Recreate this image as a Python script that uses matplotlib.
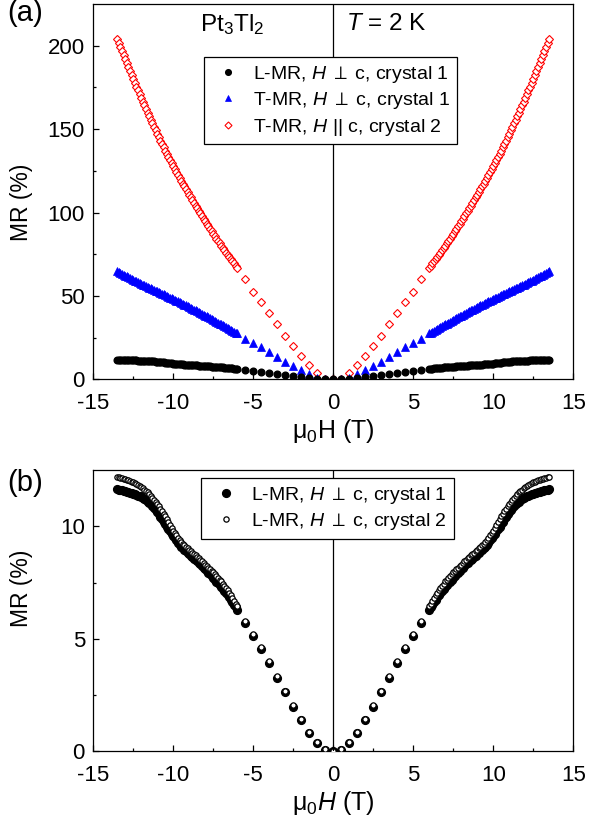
import numpy as np
import matplotlib
matplotlib.use("Agg")
import matplotlib.pyplot as plt

# Pt3Tl2 magnetoresistance at T = 2 K
plt.rcParams['font.family'] = ['Liberation Sans', 'DejaVu Sans']
plt.rcParams['mathtext.fontset'] = 'custom'
plt.rcParams['mathtext.rm'] = 'Liberation Sans'
plt.rcParams['mathtext.it'] = 'Liberation Sans:italic'
plt.rcParams['mathtext.fallback'] = 'stixsans'
plt.rcParams['axes.unicode_minus'] = False
plt.rcParams['axes.linewidth'] = 0.9

# field sweep (T), positive branch; the data are symmetrized in H
FIELD_SPARSE = [0.0, 0.5, 1.0, 1.5, 2.0, 2.5, 3.0, 3.5, 4.0, 4.5, 5.0, 5.5]
FIELD_DENSE = [
    6.0, 6.1, 6.2, 6.3, 6.4, 6.5, 6.6, 6.7, 6.8, 6.9,
    7.0, 7.1, 7.2, 7.3, 7.4, 7.5, 7.6, 7.7, 7.8, 7.9,
    8.0, 8.1, 8.2, 8.3, 8.4, 8.5, 8.6, 8.7, 8.8, 8.9,
    9.0, 9.1, 9.2, 9.3, 9.4, 9.5, 9.6, 9.7, 9.8, 9.9,
    10.0, 10.1, 10.2, 10.3, 10.4, 10.5, 10.6, 10.7, 10.8, 10.9,
    11.0, 11.1, 11.2, 11.3, 11.4, 11.5, 11.6, 11.7, 11.8, 11.9,
    12.0, 12.1, 12.2, 12.3, 12.4, 12.5, 12.6, 12.7, 12.8, 12.9,
    13.0, 13.1, 13.2, 13.3, 13.4, 13.5,
]

# L-MR, H perp c, crystal 1 (%)
LMR_C1_SPARSE = [0.0, 0.08, 0.38, 0.82, 1.38, 1.98, 2.62, 3.28, 3.93, 4.55, 5.15, 5.70]
LMR_C1_DENSE = [
    6.30, 6.41, 6.52, 6.63, 6.74, 6.85, 6.94, 7.03, 7.12, 7.21,
    7.30, 7.38, 7.46, 7.54, 7.62, 7.70, 7.78, 7.86, 7.94, 8.02,
    8.10, 8.17, 8.24, 8.31, 8.38, 8.45, 8.51, 8.57, 8.63, 8.69,
    8.75, 8.82, 8.89, 8.96, 9.03, 9.10, 9.19, 9.28, 9.37, 9.46,
    9.55, 9.66, 9.77, 9.88, 9.99, 10.10, 10.21, 10.32, 10.43, 10.54,
    10.65, 10.73, 10.81, 10.89, 10.97, 11.05, 11.10, 11.15, 11.20, 11.25,
    11.30, 11.33, 11.36, 11.39, 11.42, 11.45, 11.47, 11.49, 11.51, 11.53,
    11.55, 11.57, 11.59, 11.61, 11.63, 11.65,
]

# T-MR, H perp c, crystal 1 (%)
TMR_C1_SPARSE = [0.0, 0.3, 1.0, 3.1, 5.4, 7.8, 10.3, 13.6, 16.3, 19.3, 21.8, 24.4]
TMR_C1_DENSE = [
    27.6, 28.1, 28.7, 29.2, 29.8, 30.3, 30.8, 31.4, 31.9, 32.5,
    33.0, 33.5, 34.1, 34.6, 35.2, 35.7, 36.2, 36.7, 37.3, 37.8,
    38.3, 38.8, 39.3, 39.9, 40.4, 40.9, 41.4, 41.9, 42.4, 42.9,
    43.4, 43.9, 44.4, 44.8, 45.3, 45.8, 46.3, 46.8, 47.2, 47.7,
    48.2, 48.7, 49.1, 49.6, 50.0, 50.5, 51.0, 51.4, 51.9, 52.3,
    52.8, 53.3, 53.7, 54.2, 54.6, 55.1, 55.6, 56.0, 56.5, 56.9,
    57.4, 57.9, 58.4, 58.8, 59.3, 59.8, 60.3, 60.8, 61.3, 61.8,
    62.3, 62.8, 63.4, 63.9, 64.5, 65.0,
]

# T-MR, H || c, crystal 2 (%)
TMR_C2_SPARSE = [0.0, 0.5, 3.7, 8.4, 14.0, 19.9, 26.3, 33.0, 39.6, 46.2, 52.7, 60.0]
TMR_C2_DENSE = [
    67.0, 68.3, 69.5, 70.8, 72.0, 73.3, 74.7, 76.0, 77.4, 78.7,
    80.1, 81.5, 83.0, 84.4, 85.9, 87.3, 88.8, 90.3, 91.8, 93.3,
    94.8, 96.4, 97.9, 99.5, 101.0, 102.6, 104.2, 105.8, 107.5, 109.1,
    110.7, 112.4, 114.1, 115.7, 117.4, 119.1, 120.9, 122.6, 124.4, 126.1,
    127.9, 129.8, 131.6, 133.5, 135.3, 137.2, 139.2, 141.2, 143.1, 145.1,
    147.1, 149.2, 151.3, 153.4, 155.5, 157.6, 159.8, 162.0, 164.2, 166.4,
    168.6, 170.9, 173.2, 175.4, 177.7, 180.0, 182.4, 184.7, 187.1, 189.4,
    191.8, 194.2, 196.7, 199.1, 201.6, 204.0,
]

# L-MR, H perp c, crystal 2 (%)
LMR_C2_SPARSE = [0.0, 0.10, 0.41, 0.86, 1.43, 2.05, 2.70, 3.36, 4.01, 4.64, 5.23, 5.79]
LMR_C2_DENSE = [
    6.45, 6.57, 6.69, 6.81, 6.93, 7.05, 7.15, 7.25, 7.35, 7.45,
    7.55, 7.63, 7.71, 7.79, 7.87, 7.95, 8.02, 8.09, 8.16, 8.23,
    8.30, 8.37, 8.44, 8.51, 8.58, 8.65, 8.71, 8.77, 8.83, 8.89,
    8.95, 9.02, 9.09, 9.16, 9.23, 9.30, 9.40, 9.50, 9.60, 9.70,
    9.80, 9.93, 10.06, 10.19, 10.32, 10.45, 10.56, 10.67, 10.78, 10.89,
    11.00, 11.09, 11.18, 11.27, 11.36, 11.45, 11.51, 11.57, 11.63, 11.69,
    11.75, 11.79, 11.83, 11.87, 11.91, 11.95, 11.98, 12.01, 12.04, 12.07,
    12.10, 12.12, 12.14, 12.16, 12.18, 12.20,
]


def full_sweep(sparse, dense, odd=False):
    # join low- and high-field parts, then add the mirrored negative branch
    pos = np.array(sparse + dense)
    neg = pos[:0:-1]
    if odd:
        neg = -neg
    return np.concatenate([neg, pos])


H = full_sweep(FIELD_SPARSE, FIELD_DENSE, odd=True)
lmr_c1 = full_sweep(LMR_C1_SPARSE, LMR_C1_DENSE)
tmr_c1 = full_sweep(TMR_C1_SPARSE, TMR_C1_DENSE)
tmr_c2 = full_sweep(TMR_C2_SPARSE, TMR_C2_DENSE)
lmr_c2 = full_sweep(LMR_C2_SPARSE, LMR_C2_DENSE)

fig = plt.figure(figsize=(5.89, 8.25), dpi=100)
ax_a = fig.add_axes([0.1584, 0.540, 0.8149, 0.4552])
ax_b = fig.add_axes([0.1584, 0.0891, 0.8149, 0.3412])

xlabel_a = r'μ$_\mathregular{0}$H (T)'
xlabel_b = r'μ$_\mathregular{0}$$\mathit{H}$ (T)'
h_perp = r'$\mathit{H}\;\perp\;\mathregular{c}$'
h_par = r'$\mathit{H}$ || c'

leg_kw = dict(loc='upper center', fontsize=14, frameon=True, fancybox=False,
              framealpha=1, edgecolor='black', borderaxespad=0,
              handlelength=1.8, handletextpad=0.4, borderpad=0.35,
              labelspacing=0.28)

# ---- panel (a)
ax_a.plot(H, lmr_c1, 'o', ms=4.8, color='black', mec='black',
          label='L-MR, ' + h_perp + ', crystal 1', zorder=4)
ax_a.plot(H, tmr_c1, '^', ms=5.6, color='#0000ff', mec='#0000ff', mew=0.5,
          label='T-MR, ' + h_perp + ', crystal 1', zorder=3)
ax_a.plot(H, tmr_c2, 'D', ms=4.2, mfc='white', mec='#ff0000', mew=0.8,
          label='T-MR, ' + h_par + ', crystal 2', zorder=2)
ax_a.axvline(0, color='black', lw=0.9, zorder=5)

ax_a.set_xlim(-15, 15)
ax_a.set_ylim(0, 225)
ax_a.set_xticks([-15, -10, -5, 0, 5, 10, 15])
ax_a.set_xticks(np.arange(-12.5, 15, 5), minor=True)
ax_a.set_yticks([0, 50, 100, 150, 200])
ax_a.set_yticks([25, 75, 125, 175], minor=True)
ax_a.set_xlabel(xlabel_a, fontsize=18, labelpad=2)
ax_a.set_ylabel('MR (%)', fontsize=16.5)
ax_a.yaxis.set_label_coords(-0.125, 0.473)

ax_a.text(0.289, 0.944, r'Pt$_\mathregular{3}$Tl$_\mathregular{2}$', transform=ax_a.transAxes,
          fontsize=17.5, ha='center', va='center')
ax_a.text(0.526, 0.947, r'$\mathit{T}$ = 2 K', transform=ax_a.transAxes,
          fontsize=17.5, ha='left', va='center')

leg_a = ax_a.legend(bbox_to_anchor=(0.494, 0.859), markerscale=0.85, **leg_kw)
leg_a.get_frame().set_linewidth(0.9)

# ---- panel (b)
ax_b.plot(H, lmr_c1, 'o', ms=5.6, color='black', mec='black',
          label='L-MR, ' + h_perp + ', crystal 1', zorder=3)
ax_b.plot(H, lmr_c2, 'o', ms=3.8, mfc='white', mec='black', mew=0.9,
          label='L-MR, ' + h_perp + ', crystal 2', zorder=4)
ax_b.axvline(0, color='black', lw=0.9, zorder=5)

ax_b.set_xlim(-15, 15)
ax_b.set_ylim(0, 12.5)
ax_b.set_xticks([-15, -10, -5, 0, 5, 10, 15])
ax_b.set_xticks(np.arange(-12.5, 15, 5), minor=True)
ax_b.set_yticks([0, 5, 10])
ax_b.set_yticks([2.5, 7.5], minor=True)
ax_b.set_xlabel(xlabel_b, fontsize=18, labelpad=2)
ax_b.set_ylabel('MR (%)', fontsize=16.5)
ax_b.yaxis.set_label_coords(-0.125, 0.58)

leg_b = ax_b.legend(bbox_to_anchor=(0.488, 0.972), **leg_kw)
leg_b.get_frame().set_linewidth(0.9)

for ax in (ax_a, ax_b):
    ax.tick_params(which='both', direction='in', top=False, right=False,
                   labelsize=16, width=0.9)
    ax.tick_params(which='major', length=4.5)
    ax.tick_params(which='minor', length=2.5)
    ax.tick_params(axis='x', pad=10)
    ax.tick_params(axis='y', pad=6)

fig.text(0.043, 0.984, '(a)', fontsize=21, ha='center', va='center')
fig.text(0.043, 0.414, '(b)', fontsize=21, ha='center', va='center')

fig.savefig('out.png', dpi=100)
